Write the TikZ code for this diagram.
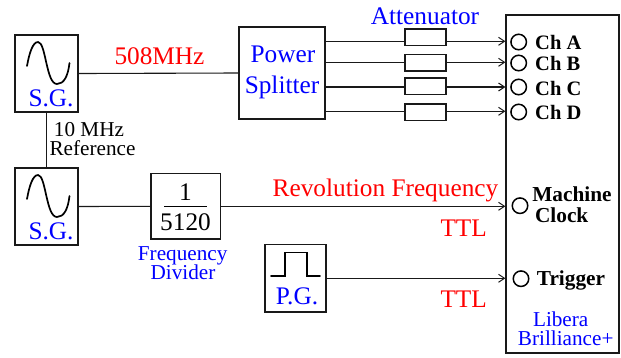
\documentclass[tikz,border=0pt]{standalone}
\usepackage{fontspec}
\setmainfont{Liberation Serif}
\usetikzlibrary{arrows.meta}
\tikzset{
  box/.style={draw=black!90,line width=1.7pt,rectangle,inner sep=0pt,fill=none},
  att/.style={box,line width=1.5pt,minimum width=41pt,minimum height=16.5pt},
  port/.style={draw=black,line width=1.5pt,circle,inner sep=0pt,minimum size=15.5pt},
  wire/.style={draw=black!90,line width=1.1pt},
  arrow/.style={wire,-{Straight Barb[length=6pt,width=8pt,line width=1pt]}},
  wave/.style={draw=black,line width=1.7pt,line cap=round},
  txt/.style={anchor=base,inner sep=0pt,font=\fontsize{25.3}{27}\selectfont},
  small/.style={anchor=base,inner sep=0pt,font=\fontsize{21.2}{23}\selectfont},
  blueT/.style={text=blue},
  redT/.style={text=red},
  chan/.style={anchor=base west,inner sep=0pt,font=\fontsize{20.5}{23}\selectfont\bfseries},
  mach/.style={anchor=base,inner sep=0pt,font=\fontsize{21.3}{23}\selectfont\bfseries}
}
\begin{document}
\begin{tikzpicture}[x=1pt,y=-1pt]
\useasboundingbox (0,0) rectangle (621,357);
\fill[white] (0,0) rectangle (621,357);
% boxes
\node[box,minimum width=63.5pt,minimum height=77pt] (sg1) at (46.5,73.5) {};
\node[box,minimum width=63.5pt,minimum height=77pt] (sg2) at (46.5,206.5) {};
\node[box,minimum width=86.5pt,minimum height=92pt] (split) at (282,73) {};
\node[box,minimum width=69.5pt,minimum height=65.5pt] (div) at (185.7,206.3) {};
\node[box,minimum width=61.5pt,minimum height=67.5pt] (pg) at (295.5,278.2) {};
\node[box,minimum width=112.7pt,minimum height=338pt] (lib) at (562.6,184) {};
\node[att] (a1) at (425.5,37) {};
\node[att] (a2) at (425.5,62.8) {};
\node[att] (a3) at (425.5,86.4) {};
\node[att] (a4) at (425.5,112) {};
\node[port] (pa) at (518.7,42) {};
\node[port] (pb) at (518.7,63) {};
\node[port] (pc) at (518.7,87) {};
\node[port] (pd) at (518.7,112) {};
\node[port] (pm) at (520,205.7) {};
\node[port] (pt) at (521,278.7) {};
% connectors
\draw[wire] (sg1.east) -- (split.west);
\draw[wire] (sg1.south) -- (sg2.north);
\draw[wire] (sg2.east) -- (div.west);
\coordinate (y1) at (0,41.3);
\coordinate (y2) at (0,62.3);
\coordinate (y3) at (0,87);
\coordinate (y4) at (0,111.3);
\draw[wire] (split.east |- y1) -- (a1.west |- y1);
\draw[wire] (split.east |- y2) -- (a2.west |- y2);
\draw[wire] (split.east |- y3) -- (a3.west |- y3);
\draw[wire] (split.east |- y4) -- (a4.west |- y4);
\draw[arrow] (a1.east |- y1) -- (lib.west |- y1);
\draw[arrow] (a2.east |- y2) -- (lib.west |- y2);
\draw[arrow] (a3.east |- y3) -- (lib.west |- y3);
\draw[arrow] (a4.east |- y4) -- (lib.west |- y4);
\draw[arrow] (div.east) -- (lib.west |- div.east);
\coordinate (y5) at (0,278.3);
\draw[arrow] (pg.east |- y5) -- (lib.west |- y5);
% waves
\draw[wave] (27,66) .. controls (29.5,52) and (33,42) .. (38,42) .. controls (46,42) and (46,84) .. (57,84) .. controls (64,84) and (68,76) .. (69.5,63);
\draw[wave] (27,199) .. controls (29.5,185) and (33,175) .. (38,175) .. controls (46,175) and (46,217) .. (57,217) .. controls (64,217) and (68,209) .. (69.5,196);
\draw[wave] (271,276) -- (285,276) -- (285,252.5) -- (306.7,252.5) -- (306.7,276) -- (320,276);
\draw[draw=black,line width=1.1pt] (164.3,206.7) -- (206.7,206.7);
% texts
\node[txt,redT] (t508) at (159.5,64.5) {508MHz};
\node[txt,blueT] (tpow) at (283,62) {Power};
\node[txt,blueT] (tspl) at (282,93) {Splitter};
\node[txt,blueT] (tsg1) at (51,106) {S.G.};
\node[txt,blueT] (tsg2) at (51,239) {S.G.};
\node[small] (t10) at (89,136.5) {10 MHz};
\node[small] (tref) at (92.5,155.5) {Reference};
\node[txt] (tone) at (185.5,200.7) {1};
\node[txt] (t512) at (185.5,230.7) {5120};
\node[small,blueT] (tfre) at (182.7,260) {Frequency};
\node[small,blueT] (tdiv) at (183,279.3) {Divider};
\node[txt,blueT] (tpg) at (297,304) {P.G.};
\node[txt,redT] (trev) at (385.5,196.7) {Revolution Frequency};
\node[txt,redT] (ttl1) at (463.7,236) {TTL};
\node[txt,redT] (ttl2) at (463.7,307.3) {TTL};
\node[txt,blueT] (tatt) at (425,24) {Attenuator};
\node[chan] (cha) at (535,49.3) {Ch A};
\node[chan] (chb) at (535,70.7) {Ch B};
\node[chan] (chc) at (535,95) {Ch C};
\node[chan] (chd) at (535,119.3) {Ch D};
\node[mach] (tmac) at (572,201.7) {Machine};
\node[mach] (tclk) at (561.7,222.3) {Clock};
\node[anchor=base west,inner sep=0pt,font=\fontsize{21.3}{23}\selectfont\bfseries] (ttrg) at (536.7,285.3) {Trigger};
\node[small,blueT] (tlib) at (560.7,326.7) {Libera};
\node[small,blueT] (tbri) at (565.7,345.7) {Brilliance+};
\end{tikzpicture}
\end{document}
